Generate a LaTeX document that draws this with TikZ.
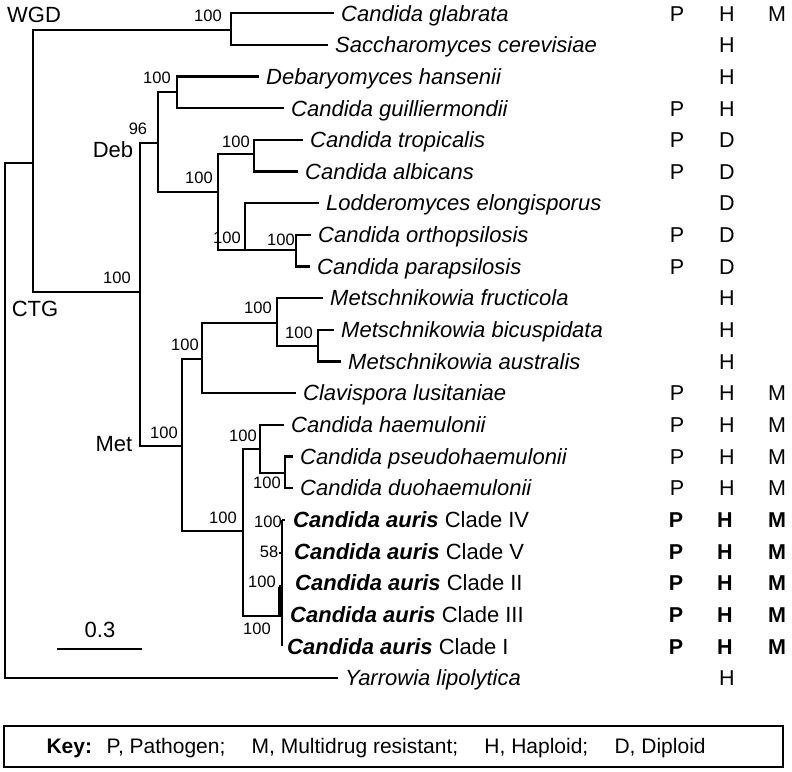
\documentclass[tikz,border=0pt]{standalone}
\usepackage{fontspec}
\setmainfont{Liberation Sans}
\usepackage{tikz}
\usetikzlibrary{positioning}
\newcommand{\Species}[1]{\textit{#1}}
\newcommand{\Auris}[1]{\textbf{\textit{Candida auris}} Clade #1}
\newcommand{\RowY}[1]{13.3+31.65*#1}
\tikzset{
    branch/.style={line width=2.3pt, line cap=rect},
    leaf/.style={anchor=west, inner xsep=8pt, inner ysep=0pt, text height=15.5pt, text depth=0pt,
      font=\fontsize{22}{22}\selectfont},
    boot/.style={inner sep=0pt, text height=11.5pt, text depth=0pt, font=\fontsize{16.5}{16.5}\selectfont},
    clade/.style={inner sep=0pt, text height=15.5pt, text depth=0pt, font=\fontsize{22}{22}\selectfont},
    trait/.style={inner sep=0pt, text height=15.5pt, text depth=0pt, font=\fontsize{21.5}{21.5}\selectfont},
}

\begin{document}
\begin{tikzpicture}[x=1pt, y=-1pt]
    \useasboundingbox (0,0) rectangle (792,771);

    \node[leaf] (glab) at (333,{\RowY{0}}) {\Species{Candida glabrata}};
    \node[leaf] (scer) at (327,{\RowY{1}}) {\Species{Saccharomyces cerevisiae}};
    \node[leaf] (dhan) at (258,{\RowY{2}}) {\Species{Debaryomyces hansenii}};
    \node[leaf] (cgui) at (283,{\RowY{3}}) {\Species{Candida guilliermondii}};
    \node[leaf] (ctro) at (302,{\RowY{4}}) {\Species{Candida tropicalis}};
    \node[leaf] (calb) at (297,{\RowY{5}}) {\Species{Candida albicans}};
    \node[leaf] (lelo) at (318,{\RowY{6}}) {\Species{Lodderomyces elongisporus}};
    \node[leaf] (cort) at (310,{\RowY{7}}) {\Species{Candida orthopsilosis}};
    \node[leaf] (cpar) at (309,{\RowY{8}}) {\Species{Candida parapsilosis}};
    \node[leaf] (mfru) at (322,{\RowY{9}}) {\Species{Metschnikowia fructicola}};
    \node[leaf] (mbic) at (333,{\RowY{10}}) {\Species{Metschnikowia bicuspidata}};
    \node[leaf] (maus) at (340,{\RowY{11}}) {\Species{Metschnikowia australis}};
    \node[leaf] (clus) at (295,{\RowY{12}}) {\Species{Clavispora lusitaniae}};
    \node[leaf] (chae) at (283,{\RowY{13}}) {\Species{Candida haemulonii}};
    \node[leaf] (cpse) at (292,{\RowY{14}}) {\Species{Candida pseudohaemulonii}};
    \node[leaf] (cduo) at (292,{\RowY{15}}) {\Species{Candida duohaemulonii}};
    \node[leaf] (aur4) at (285,{\RowY{16}}) {\Auris{IV}};
    \node[leaf] (aur5) at (286,{\RowY{17}}) {\Auris{V}};
    \node[leaf] (aur2) at (287,{\RowY{18}}) {\Auris{II}};
    \node[leaf] (aur3) at (282,{\RowY{19}}) {\Auris{III}};
    \node[leaf] (aur1) at (279,{\RowY{20}}) {\Auris{I}};
    \node[leaf] (ylip) at (337,{\RowY{21}}) {\Species{Yarrowia lipolytica}};

    \coordinate (root) at (5,420);
    \coordinate (n0) at (33,163);
    \coordinate (wgd) at (231,30);
    \coordinate (ctg) at (140,292);
    \coordinate (deb) at (158,143);
    \coordinate (d1) at (177,92);
    \coordinate (d2) at (218,192);
    \coordinate (d3) at (254,154);
    \coordinate (d4) at (245,250);
    \coordinate (d5) at (296,250);
    \coordinate (met) at (182,446);
    \coordinate (m1) at (202,359);
    \coordinate (m3) at (277,323);
    \coordinate (m4) at (318,346);
    \coordinate (m2) at (243,531);
    \coordinate (m5) at (260,449);
    \coordinate (m7) at (285,473);
    \coordinate (m6) at (281,616);
    \coordinate (a4) at (282,{\RowY{16}});
    \coordinate (a1) at (282,646);
    \coordinate (a5) at (279,553);
    \coordinate (a2) at (279,586);
    \coordinate (a23) at (280,587);
    \coordinate (a31) at (280,617);

    \draw[branch] (root) |- (n0);
    \draw[branch] (root) |- (ylip.west);
    \draw[branch] (n0) |- (wgd);
    \draw[branch] (n0) |- (ctg);
    \draw[branch] (wgd) |- (glab.west);
    \draw[branch] (wgd) |- (scer.west);
    \draw[branch] (ctg) |- (deb);
    \draw[branch] (ctg) |- (met);
    \draw[branch] (deb) |- (d1);
    \draw[branch] (deb) |- (d2);
    \draw[branch] (d1) |- (dhan.west);
    \draw[branch] (d1) |- (cgui.west);
    \draw[branch] (d2) |- (d3);
    \draw[branch] (d2) |- (d4);
    \draw[branch] (d3) |- (ctro.west);
    \draw[branch] (d3) |- (calb.west);
    \draw[branch] (d4) |- (lelo.west);
    \draw[branch] (d4) -- (d5);
    \draw[branch] (d5) |- (cort.west);
    \draw[branch] (d5) |- (cpar.west);
    \draw[branch] (met) |- (m1);
    \draw[branch] (met) |- (m2);
    \draw[branch] (m1) |- (m3);
    \draw[branch] (m1) |- (clus.west);
    \draw[branch] (m3) |- (mfru.west);
    \draw[branch] (m3) |- (m4);
    \draw[branch] (m4) |- (mbic.west);
    \draw[branch] (m4) |- (maus.west);
    \draw[branch] (m2) |- (m5);
    \draw[branch] (m2) |- (m6);
    \draw[branch] (m5) |- (chae.west);
    \draw[branch] (m5) |- (m7);
    \draw[branch] (m7) |- (cpse.west);
    \draw[branch] (m7) |- (cduo.west);
    \draw[line width=1.6pt] (a4) -- (a1);
    \draw[line width=1.6pt] (a4) -- (aur4.west);
    \draw[line width=1.6pt] (a5) -- (a5 -| a4);
    \draw[line width=1.6pt] (a2) -- (a2 -| a4);
    \draw[line width=3.2pt] (a23) -- (a31);

    \node[boot] (b-wgd) at (208,16) {100};
    \node[boot] (b-deb) at (138,129) {96};
    \node[boot] (b-d1) at (157,78) {100};
    \node[boot] (b-d2) at (199,178) {100};
    \node[boot] (b-d3) at (236,142) {100};
    \node[boot] (b-d4) at (227,238) {100};
    \node[boot] (b-d5) at (281,240) {100};
    \node[boot] (b-ctg) at (117,278) {100};
    \node[boot] (b-met) at (164,433) {100};
    \node[boot] (b-m1) at (185,345) {100};
    \node[boot] (b-m3) at (258,308) {100};
    \node[boot] (b-m4) at (299,333) {100};
    \node[boot] (b-m2) at (223,518) {100};
    \node[boot] (b-m5) at (243,436) {100};
    \node[boot] (b-m7) at (267,483) {100};
    \node[boot] (b-a4) at (268,522) {100};
    \node[boot] (b-a5) at (269,552) {58};
    \node[boot] (b-a2) at (262,582) {100};
    \node[boot] (b-a1) at (257,629) {100};

    \node[clade] (l-wgd) at (34,15) {WGD};
    \node[clade] (l-deb) at (113,150) {Deb};
    \node[clade] (l-ctg) at (35,309) {CTG};
    \node[clade] (l-met) at (114,444) {Met};

    \coordinate (sbl) at (57,649);
    \coordinate (sbr) at (142,649);
    \draw[branch, line cap=butt] (sbl) -- (sbr);
    \node[clade] (scale) at (100,630) {0.3};

    \foreach \r in {0,3,4,5,7,8,12,13,14,15}
      \node[trait] (p\r) at (677,{\RowY{\r}}) {P};
    \foreach \r/\g in {0/H,1/H,2/H,3/H,4/D,5/D,6/D,7/D,8/D,9/H,10/H,11/H,12/H,13/H,14/H,15/H,21/H}
      \node[trait] (g\r) at (727,{\RowY{\r}}) {\g};
    \foreach \r in {0,12,13,14,15}
      \node[trait] (m\r) at (777,{\RowY{\r}}) {M};
    \foreach \r in {16,...,20}{
      \node[trait, font=\fontsize{21.5}{21.5}\selectfont\bfseries] (p\r) at (676,{\RowY{\r}}) {P};
      \node[trait, font=\fontsize{21.5}{21.5}\selectfont\bfseries] (g\r) at (725,{\RowY{\r}}) {H};
      \node[trait, font=\fontsize{21.5}{21.5}\selectfont\bfseries] (m\r) at (777,{\RowY{\r}}) {M};
    }

    \node[draw, line width=1.4pt, minimum width=779pt, minimum height=41pt, inner sep=0pt]
      (key) at (393.5,746.5) {};
    \node[anchor=west, inner sep=0pt, text height=14.5pt, text depth=0pt, font=\fontsize{21}{21}\selectfont]
      (keytext) at ([xshift=43pt]key.west)
      {\textbf{Key:}\hspace{0.7em}P, Pathogen;\hspace{1.25em}M, Multidrug resistant;\hspace{1.25em}H, Haploid;\hspace{1.25em}D, Diploid};
\end{tikzpicture}
\end{document}
